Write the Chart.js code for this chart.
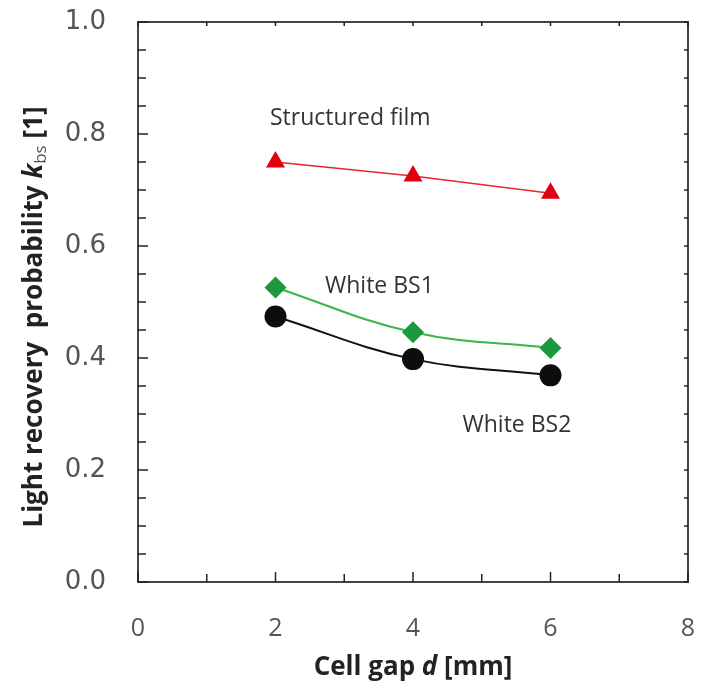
<!DOCTYPE html>
<html>
<head>
<meta charset="utf-8">
<script src="https://cdn.jsdelivr.net/npm/chart.js@4.4.0/dist/chart.umd.min.js"></script>
<style>
  html, body { margin: 0; padding: 0; background: #fff; }
  #wrap { width: 702px; height: 688px; }
</style>
</head>
<body>
<div id="wrap"><canvas id="chart" width="702" height="688"></canvas></div>
<script>
// Data
const cellGap = [2, 4, 6];
const structuredFilm = [0.750, 0.725, 0.694];
const whiteBS1 = [0.526, 0.446, 0.418];
const whiteBS2 = [0.474, 0.398, 0.369];
const xTicks = [0, 2, 4, 6, 8];
const yTicks = [0.0, 0.2, 0.4, 0.6, 0.8, 1.0];

// Text labels placed in data coordinates
const seriesLabels = [
    { text: 'Structured film', x: 1.92, y: 0.828 },
    { text: 'White BS1', x: 2.72, y: 0.527 },
    { text: 'White BS2', x: 4.72, y: 0.280 }
];

const pts = vals => cellGap.map((x, i) => ({ x: x, y: vals[i] }));

// Frame, inward ticks, axis titles and series labels
const decor = {
    id: 'decor',
    afterDraw(chart) {
        const c = chart.ctx;
        const a = chart.chartArea;
        const xs = chart.scales.x, ys = chart.scales.y;
        c.save();
        c.strokeStyle = '#444';
        c.lineWidth = 2;
        c.strokeRect(a.left, a.top, a.right - a.left, a.bottom - a.top);

        c.lineWidth = 1.5;
        c.strokeStyle = '#222';
        c.beginPath();
        for (let v = 0; v <= 8; v += 1) {
            const px = xs.getPixelForValue(v);
            const len = v % 2 === 0 ? 10 : 8;
            c.moveTo(px, a.bottom); c.lineTo(px, a.bottom - len);
            c.moveTo(px, a.top); c.lineTo(px, a.top + 4);
        }
        for (let k = 0; k <= 20; k++) {
            const py = ys.getPixelForValue(k * 0.05);
            const len = k % 4 === 0 ? 10 : 8;
            c.moveTo(a.left, py); c.lineTo(a.left + len, py);
            c.moveTo(a.right, py); c.lineTo(a.right - 4, py);
        }
        c.stroke();

        // series labels
        c.fillStyle = '#333';
        c.font = '23px "Open Sans"';
        c.textBaseline = 'middle';
        c.textAlign = 'left';
        seriesLabels.forEach(l => {
            c.fillText(l.text, xs.getPixelForValue(l.x), ys.getPixelForValue(l.y));
        });

        // text runs helper
        const drawRuns = (runs, cx, cy) => {
            let w = 0;
            runs.forEach(r => { c.font = r.font; w += c.measureText(r.t).width; });
            let x = cx - w / 2;
            runs.forEach(r => {
                c.font = r.font;
                c.fillStyle = r.color || '#222';
                c.fillText(r.t, x, cy + (r.dy || 0));
                x += c.measureText(r.t).width;
            });
        };
        c.textAlign = 'left';
        c.textBaseline = 'middle';
        const B = 'bold 26px "Open Sans"';
        const BI = 'italic bold 26px "Open Sans"';

        drawRuns([
            { t: 'Cell gap ', font: B },
            { t: 'd', font: BI },
            { t: ' [mm]', font: B }
        ], (a.left + a.right) / 2, 668);

        c.save();
        c.translate(35, 317);
        c.rotate(-Math.PI / 2);
        drawRuns([
            { t: 'Light recovery  probability ', font: B },
            { t: 'k', font: BI },
            { t: 'bs', font: '17px "Open Sans"', dy: 6, color: '#555' },
            { t: ' [1]', font: B }
        ], 0, 0);
        c.restore();
        c.restore();
    }
};

new Chart(document.getElementById('chart'), {
    type: 'line',
    data: {
        datasets: [
            {
                label: 'Structured film',
                data: pts(structuredFilm),
                borderColor: '#e8262b',
                borderWidth: 1.5,
                backgroundColor: '#e0000f',
                pointStyle: 'triangle',
                pointRadius: 11,
                pointBorderWidth: 0,
                tension: 0
            },
            {
                label: 'White BS1',
                data: pts(whiteBS1),
                borderColor: '#3cb44b',
                borderWidth: 2,
                backgroundColor: '#1a9a3c',
                pointStyle: 'rectRot',
                pointRadius: 11,
                pointBorderWidth: 0,
                tension: 0.4
            },
            {
                label: 'White BS2',
                data: pts(whiteBS2),
                borderColor: '#111',
                borderWidth: 2,
                backgroundColor: '#0d0d0d',
                pointStyle: 'circle',
                pointRadius: 11,
                pointBorderWidth: 0,
                tension: 0.4
            }
        ]
    },
    options: {
        responsive: false,
        animation: false,
        layout: { padding: { top: 22, right: 14, left: 0, bottom: 0 } },
        plugins: {
            legend: { display: false },
            tooltip: { enabled: false }
        },
        scales: {
            x: {
                type: 'linear',
                min: 0, max: 8,
                afterBuildTicks: s => { s.ticks = xTicks.map(v => ({ value: v })); },
                afterFit: s => { s.height = 106; s.paddingLeft = 0; s.paddingRight = 0; },
                grid: { display: false, drawTicks: false, tickLength: 0 },
                border: { display: false },
                ticks: {
                    padding: 32,
                    color: '#555',
                    font: { family: 'Open Sans', size: 25 },
                    callback: v => String(v)
                }
            },
            y: {
                min: 0, max: 1,
                afterBuildTicks: s => { s.ticks = yTicks.map(v => ({ value: v })); },
                afterFit: s => { s.width = 138; s.paddingTop = 0; s.paddingBottom = 0; },
                grid: { display: false, drawTicks: false, tickLength: 0 },
                border: { display: false },
                ticks: {
                    padding: 32,
                    color: '#555',
                    font: { family: 'DejaVu Sans', size: 26 },
                    callback: v => Number(v).toFixed(1)
                }
            }
        }
    },
    plugins: [decor]
});
</script>
</body>
</html>
